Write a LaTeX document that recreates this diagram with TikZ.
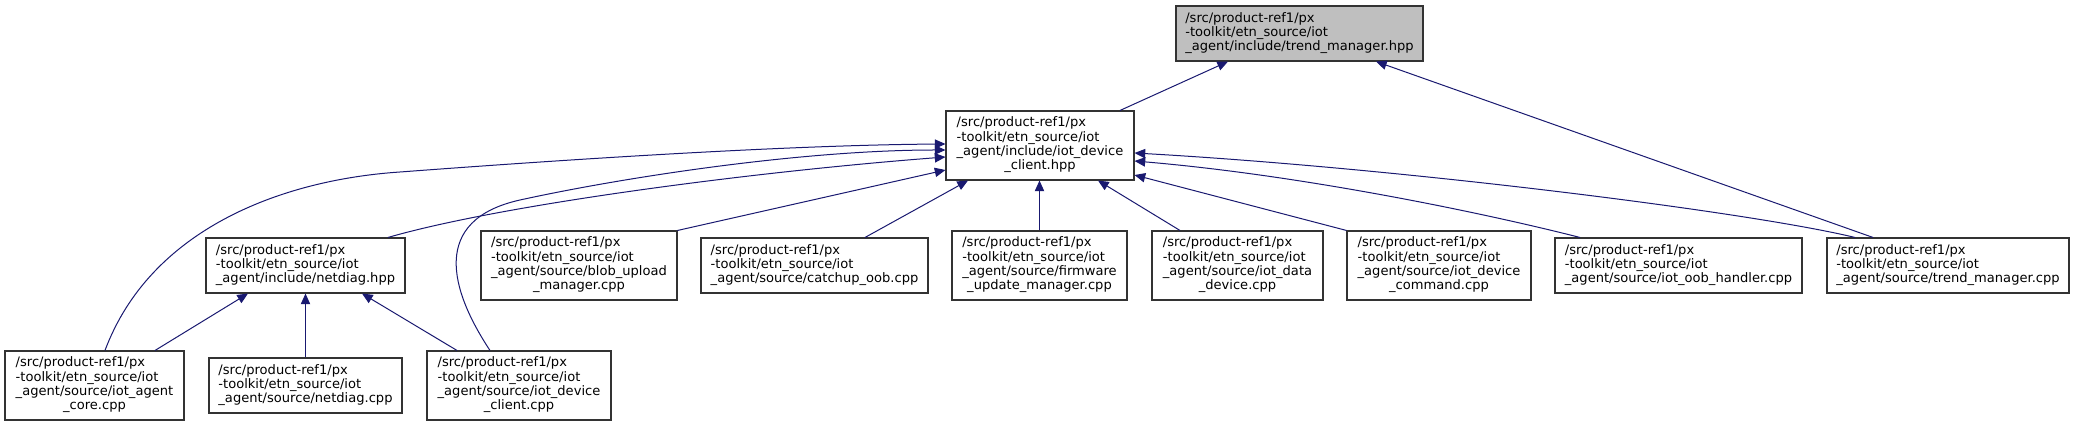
\documentclass[tikz,border=0pt]{standalone}
\usepackage{fontspec}
\setmainfont{DejaVu Sans}
\usepackage{tikz}
\usetikzlibrary{arrows.meta,positioning}
\usepackage{xcolor}
\definecolor{edgeblue}{HTML}{191970}
\definecolor{rootgray}{HTML}{BFBFBF}

\newcommand{\threelines}[1]{\begin{tabular}{@{}l@{}}/src/product-ref1/px\\-toolkit/etn\_source/iot\\\_agent/#1\end{tabular}}
\newcommand{\fourlines}[2]{\begin{tabular}{@{}l@{}}/src/product-ref1/px\\-toolkit/etn\_source/iot\\\_agent/#1\\\multicolumn{1}{@{}c@{}}{\_#2}\end{tabular}}

\tikzset{
  file/.style={rectangle, draw=black!80, line width=0.8pt, inner sep=0pt, minimum height=41.25pt, font=\fontsize{9.8pt}{10.7pt}\selectfont},
  tallfile/.style={file, minimum height=51.75pt},
  rootfile/.style={file, fill=rootgray},
  dep/.style={draw=edgeblue, line width=0.75pt, -{Triangle[length=8pt,width=7pt]}}
}

\begin{document}
\begin{tikzpicture}[x=0.75pt, y=-0.75pt]
\useasboundingbox (0,0) rectangle (2075,427);

% top row
\node (tm_hpp) [rootfile, minimum width=185.25pt] at (1299.5,33.5) {\threelines{include/trend\_manager.hpp}};
\node (client_hpp) [tallfile, minimum width=141pt] at (1040,145.5) {\fourlines{include/iot\_device}{client.hpp}};

% middle row
\node (netdiag_hpp) [file, minimum width=149.25pt] at (305.5,265.5) {\threelines{include/netdiag.hpp}};
\node (blob) [tallfile, minimum width=147pt] at (579,265.5) {\fourlines{source/blob\_upload}{manager.cpp}};
\node (catchup) [file, minimum width=170.25pt] at (814.5,265.5) {\threelines{source/catchup\_oob.cpp}};
\node (firmware) [tallfile, minimum width=131.25pt] at (1039.5,265.5) {\fourlines{source/firmware}{update\_manager.cpp}};
\node (iot_data) [tallfile, minimum width=128.25pt] at (1237.5,265.5) {\fourlines{source/iot\_data}{device.cpp}};
\node (device_command) [tallfile, minimum width=138pt] at (1439,265.5) {\fourlines{source/iot\_device}{command.cpp}};
\node (oob) [file, minimum width=185.25pt] at (1678.5,265.5) {\threelines{source/iot\_oob\_handler.cpp}};
\node (tm_cpp) [file, minimum width=181.5pt] at (1948,265.5) {\threelines{source/trend\_manager.cpp}};

% bottom row
\node (agent_core) [tallfile, minimum width=134.25pt] at (94.5,385.5) {\fourlines{source/iot\_agent}{core.cpp}};
\node (netdiag_cpp) [file, minimum width=144.75pt] at (305.5,385.5) {\threelines{source/netdiag.cpp}};
\node (client_cpp) [tallfile, minimum width=138pt] at (519,385.5) {\fourlines{source/iot\_device}{client.cpp}};

% includes of trend_manager.hpp
\draw [dep] (client_hpp.north -| 1120,0) -- (tm_hpp.south -| 1228,0);
\draw [dep] (tm_cpp.north -| 1873,0) -- (tm_hpp.south -| 1376,0);

% includes of iot_device_client.hpp
\draw [dep] (agent_core.north -| 105,0) .. controls (150,230) and (280,180) .. (400,172) .. controls (600,157) and (800,145) .. (client_hpp.west |- 0,144);
\draw [dep] (client_cpp.north -| 490,0) .. controls (450,290) and (430,220) .. (520,200) .. controls (620,178) and (800,150) .. (client_hpp.west |- 0,150);
\draw [dep] (netdiag_hpp.north -| 388,0) .. controls (500,205) and (750,172) .. (client_hpp.west |- 0,157);
\draw [dep] (blob.north east) -- (client_hpp.west |- 0,170);
\draw [dep] (catchup.north -| 865,0) -- (client_hpp.south -| 968,0);
\draw [dep] (firmware.north) -- (client_hpp.south -| firmware.north);
\draw [dep] (iot_data.north -| 1180,0) -- (client_hpp.south -| 1098,0);
\draw [dep] (device_command.north west) -- (client_hpp.east |- 0,175);
\draw [dep] (oob.north -| 1580,0) .. controls (1480,212) and (1300,175) .. (client_hpp.east |- 0,161);
\draw [dep] (tm_cpp.north -| 1855,0) .. controls (1750,212) and (1400,168) .. (client_hpp.east |- 0,153);

% includes of netdiag.hpp
\draw [dep] (agent_core.north -| 155,0) -- (netdiag_hpp.south -| 248,0);
\draw [dep] (netdiag_cpp.north) -- (netdiag_hpp.south);
\draw [dep] (client_cpp.north -| 457,0) -- (netdiag_hpp.south -| 362,0);
\end{tikzpicture}
\end{document}
